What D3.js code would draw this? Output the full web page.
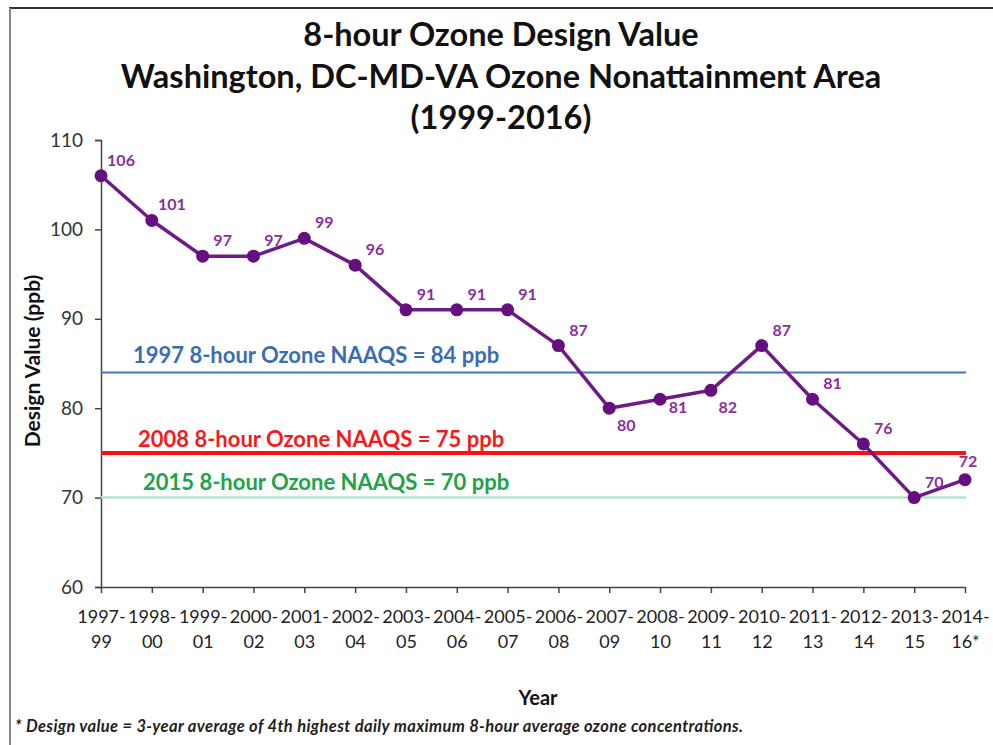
<!DOCTYPE html>
<html>
<head>
<meta charset="utf-8">
<script src="https://cdn.jsdelivr.net/npm/d3@7"></script>
<style>
  body { margin: 0; background: #fff; }
  svg { display: block; }
</style>
</head>
<body>
<script>
// data
const periods = [
  ["1997-", "99"], ["1998-", "00"], ["1999-", "01"], ["2000-", "02"],
  ["2001-", "03"], ["2002-", "04"], ["2003-", "05"], ["2004-", "06"],
  ["2005-", "07"], ["2006-", "08"], ["2007-", "09"], ["2008-", "10"],
  ["2009-", "11"], ["2010-", "12"], ["2011-", "13"], ["2012-", "14"],
  ["2013-", "15"], ["2014-", "16*"],
];
const designValues = [106, 101, 97, 97, 99, 96, 91, 91, 91, 87, 80, 81, 82, 87, 81, 76, 70, 72];
// where each value label sits relative to its point
const labelSide = ["ur", "ur", "ur", "ur", "ur", "ur", "ur", "ur", "ur", "ur",
  "lr", "r", "lr", "ur", "ur", "ur", "ur", "up"];
const yTicks = [60, 70, 80, 90, 100, 110];
const standards = [
  { label: "1997 8-hour Ozone NAAQS = 84 ppb", value: 84 },
  { label: "2008 8-hour Ozone NAAQS = 75 ppb", value: 75 },
  { label: "2015 8-hour Ozone NAAQS = 70 ppb", value: 70 },
];
const titleLines = [
  "8-hour Ozone Design Value",
  "Washington, DC-MD-VA Ozone Nonattainment Area",
  "(1999-2016)",
];
const footnote = "* Design value = 3-year average of 4th highest daily maximum 8-hour average ozone concentrations.";

const width = 993, height = 745;
const font = "Lato, 'Open Sans', sans-serif";
const stdStyle = [
  { color: "#4472c4", text: "#3b6db3", w: 2, dx: 133, dy: -9 },
  { color: "#ff1010", text: "#f01c1c", w: 4, dx: 138, dy: -6 },
  { color: "#b3e3c6", text: "#22a24a", w: 2.5, dx: 143, dy: -8 },
];

const svg = d3.select("body").append("svg")
  .attr("width", width)
  .attr("height", height);

// frame (top and left edges only, like the scanned original)
svg.append("line").attr("x1", 9).attr("x2", width).attr("y1", 8).attr("y2", 8)
  .attr("stroke", "#333").attr("stroke-width", 2);
svg.append("line").attr("x1", 10).attr("x2", 10).attr("y1", 8).attr("y2", height)
  .attr("stroke", "#888").attr("stroke-width", 2);

const x = d3.scalePoint().domain(d3.range(periods.length)).range([101, 965]);
const y = d3.scaleLinear().domain([60, 110]).range([587, 140]);

// title
svg.append("g").selectAll("text")
  .data(titleLines)
  .join("text")
  .attr("x", 501)
  .attr("y", (d, i) => 46 + i * 41.5)
  .attr("text-anchor", "middle")
  .attr("font-family", font)
  .attr("font-weight", "bold")
  .attr("font-size", "32.5px")
  .attr("fill", "#111")
  .text((d) => d);

// y axis
const yAxis = svg.append("g")
  .attr("transform", "translate(101,0)")
  .call(d3.axisLeft(y).tickValues(yTicks).tickSize(6).tickPadding(12));
yAxis.select(".domain").attr("stroke", "#444").attr("stroke-width", 1.5);
yAxis.selectAll(".tick line").attr("stroke", "#444").attr("stroke-width", 1.5);
yAxis.selectAll(".tick text")
  .attr("font-family", font).attr("font-size", "19px").attr("fill", "#333");

// x axis
const xAxis = svg.append("g")
  .attr("transform", "translate(0,587)")
  .call(d3.axisBottom(x).tickSize(6).tickSizeOuter(0).tickFormat(""));
xAxis.select(".domain").attr("stroke", "#444").attr("stroke-width", 1.5);
xAxis.selectAll(".tick line").attr("stroke", "#444").attr("stroke-width", 1.5);
xAxis.selectAll(".tick").each(function (d) {
  const t = d3.select(this).append("text")
    .attr("fill", "#222")
    .attr("font-family", font)
    .attr("font-size", "18px")
    .attr("text-anchor", "middle");
  t.append("tspan").attr("x", 0).attr("y", 36).text(periods[d][0]);
  t.append("tspan").attr("x", 0).attr("y", 61).text(periods[d][1]);
});

// axis titles
svg.append("text")
  .attr("transform", "translate(40,361) rotate(-90)")
  .attr("text-anchor", "middle")
  .attr("font-family", font)
  .attr("font-weight", "bold")
  .attr("font-size", "21px")
  .attr("fill", "#111")
  .text("Design Value (ppb)");

svg.append("text")
  .attr("x", 538)
  .attr("y", 705)
  .attr("text-anchor", "middle")
  .attr("font-family", font)
  .attr("font-weight", "bold")
  .attr("font-size", "20px")
  .attr("fill", "#111")
  .text("Year");

// standard lines
standards.forEach((s, i) => {
  const st = stdStyle[i];
  svg.append("line")
    .attr("x1", 101).attr("x2", 966)
    .attr("y1", y(s.value)).attr("y2", y(s.value))
    .attr("stroke", st.color)
    .attr("stroke-width", st.w);
  svg.append("text")
    .attr("x", st.dx)
    .attr("y", y(s.value) + st.dy)
    .attr("font-family", font)
    .attr("font-weight", "bold")
    .attr("font-size", "22px")
    .attr("fill", st.text)
    .text(s.label);
});

// the series
const pts = designValues.map((v, i) => ({ i, v }));
svg.append("path")
  .datum(pts)
  .attr("fill", "none")
  .attr("stroke", "#6e1a87")
  .attr("stroke-width", 3.5)
  .attr("stroke-linejoin", "round")
  .attr("d", d3.line().x((d) => x(d.i)).y((d) => y(d.v)));

svg.append("g").selectAll("circle")
  .data(pts)
  .join("circle")
  .attr("cx", (d) => x(d.i))
  .attr("cy", (d) => y(d.v))
  .attr("r", 6.5)
  .attr("fill", "#65107e");

const offs = { ur: [20, -10], lr: [17, 23], r: [18, 14], up: [3, -13] };
svg.append("g").selectAll("text")
  .data(pts)
  .join("text")
  .attr("x", (d) => x(d.i) + offs[labelSide[d.i]][0])
  .attr("y", (d) => y(d.v) + offs[labelSide[d.i]][1])
  .attr("text-anchor", "middle")
  .attr("font-family", font)
  .attr("font-weight", "bold")
  .attr("font-size", "16px")
  .attr("fill", "#8a2fa0")
  .text((d) => d.v);

// footnote
svg.append("text")
  .attr("x", 15)
  .attr("y", 732)
  .attr("font-family", font)
  .attr("font-weight", "bold")
  .attr("font-style", "italic")
  .attr("font-size", "16.5px")
  .attr("textLength", 728)
  .attr("lengthAdjust", "spacing")
  .attr("fill", "#222")
  .text(footnote);
</script>
</body>
</html>
